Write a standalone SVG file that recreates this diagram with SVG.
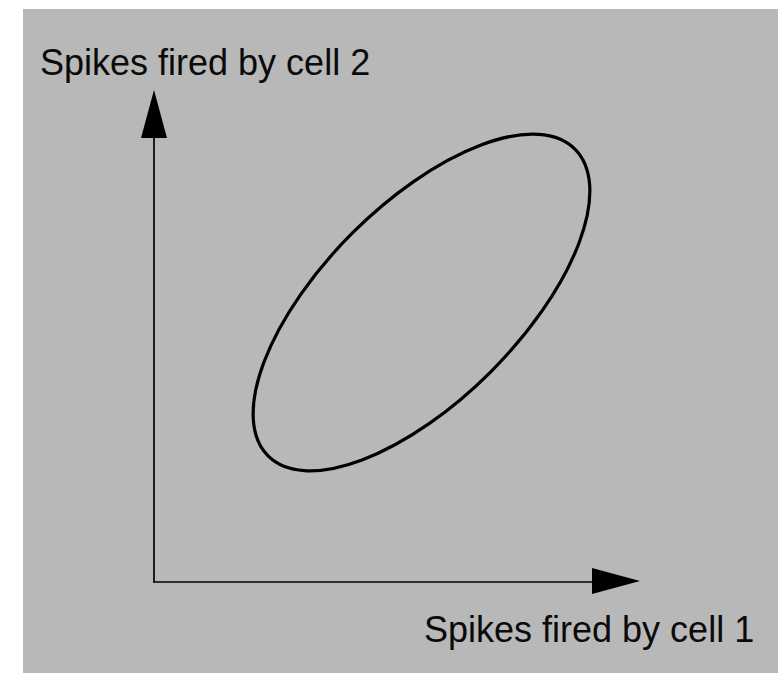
<svg xmlns="http://www.w3.org/2000/svg" width="778" height="673" viewBox="0 0 778 673">
<style>
.bg{fill:#b8b8b8}
.axis{stroke:#000;stroke-width:1.7;fill:none}
.lbl{font-family:"Liberation Sans",Arial,sans-serif;font-size:36px;fill:#0a0a0a}
.curve{fill:none;stroke:#000;stroke-width:3.2}
.head{fill:#000}
</style>
<rect class="bg" x="23" y="9" width="755" height="664"/>
<g id="connectors">
<line class="axis" x1="154" y1="582.5" x2="154" y2="130"/>
<polygon class="head" points="154,90 141,138 167,138"/>
<line class="axis" x1="153.2" y1="582" x2="600" y2="582"/>
<polygon class="head" points="640,581 592,568 592,594"/>
</g>
<g id="ellipse">
<ellipse class="curve" cx="421.5" cy="302.5" rx="217" ry="98" transform="rotate(-45 421.5 302.5)"/>
</g>
<g id="label-y">
<text class="lbl" x="40" y="75">Spikes fired by cell 2</text>
</g>
<g id="label-x">
<text class="lbl" x="424" y="642">Spikes fired by cell 1</text>
</g>
</svg>
